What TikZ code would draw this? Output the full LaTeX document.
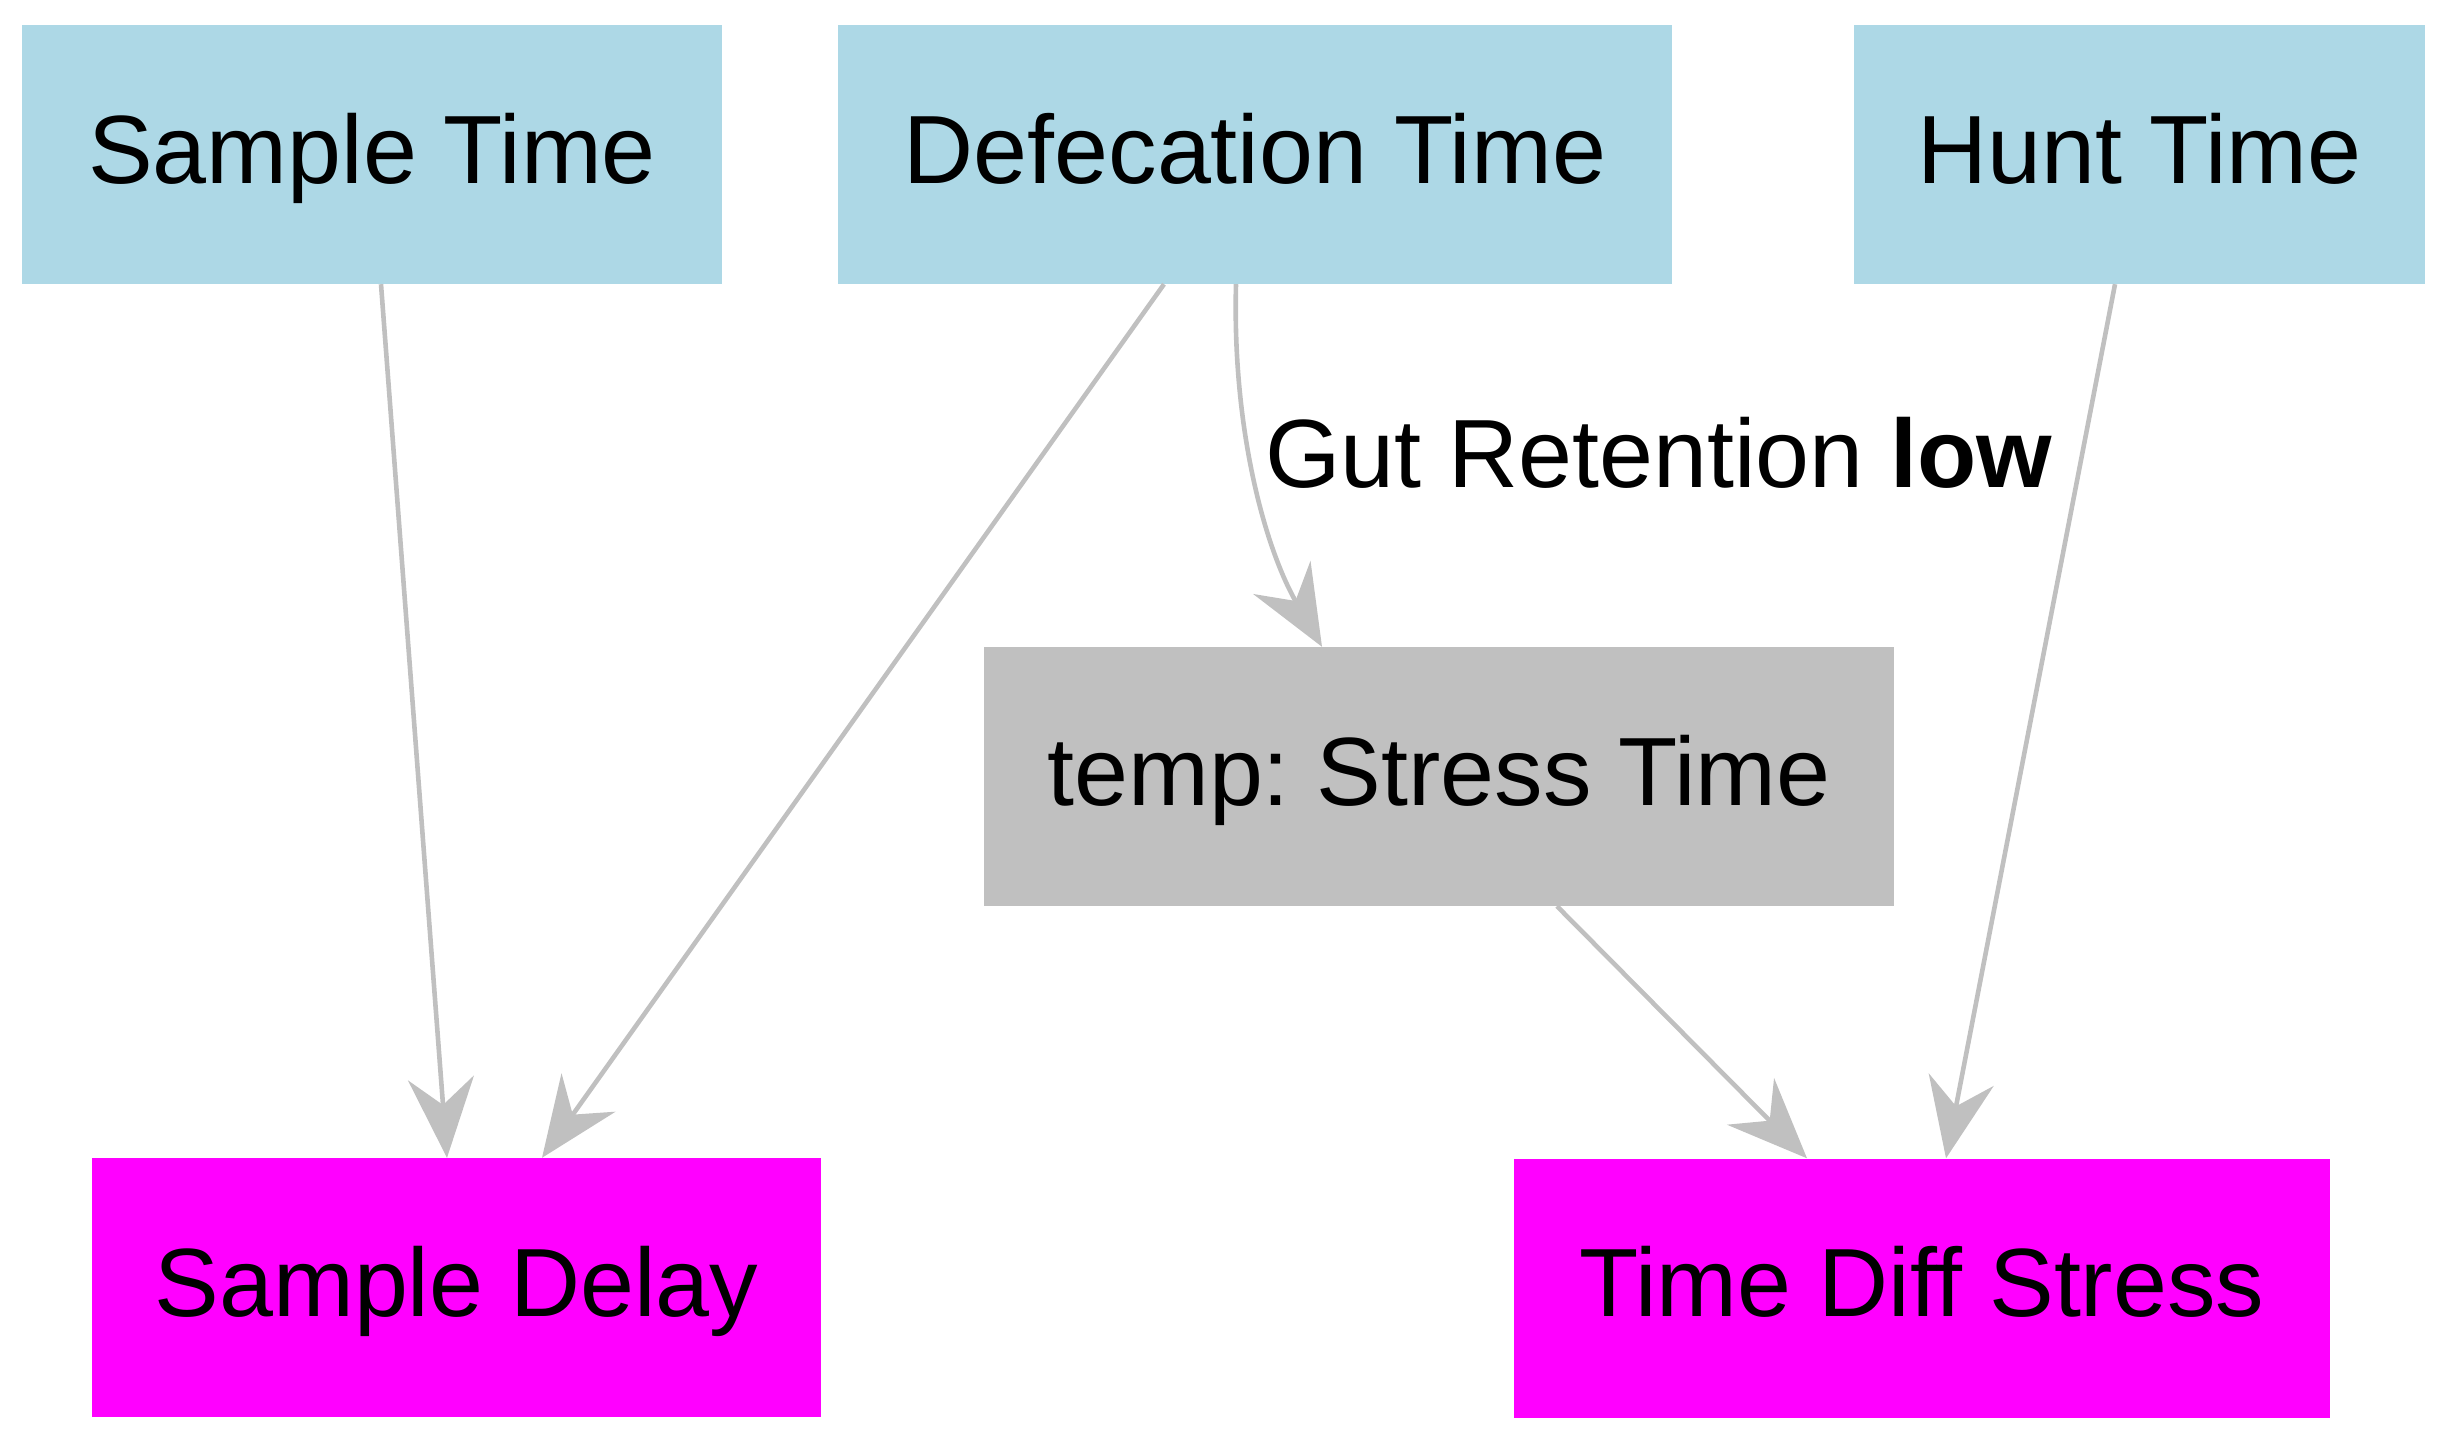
\documentclass[tikz,border=0pt]{standalone}
\usepackage{fontspec}
\setmainfont{Liberation Sans}
\usetikzlibrary{arrows.meta}
\definecolor{boxblue}{HTML}{ADD8E6}
\definecolor{boxmag}{HTML}{FF00FF}
\definecolor{boxgray}{HTML}{C0C0C0}
\definecolor{edgegray}{HTML}{C0C0C0}
\begin{document}
\frenchspacing
\begin{tikzpicture}[x=1pt,y=-1pt,
  box/.style={rectangle,inner sep=0pt,minimum height=259pt,text height=70pt,text depth=13pt,font=\fontsize{97pt}{110pt}\selectfont,text=black},
  inbox/.style={box,fill=boxblue},
  outbox/.style={box,fill=boxmag},
  tmpbox/.style={box,fill=boxgray},
  conn/.style={draw=edgegray,line width=4.6pt,-{Stealth[length=80pt,width=66pt,inset=27pt,color=edgegray]}},
  elabel/.style={inner sep=0pt,anchor=base west,font=\fontsize{97pt}{110pt}\selectfont}]
\useasboundingbox (0,0) rectangle (2445,1440);
\node[inbox,minimum width=700pt] (st) at (372,154.5) {Sample Time};
\node[inbox,minimum width=834pt] (def) at (1255,154.5) {Defecation Time};
\node[inbox,minimum width=571pt] (hunt) at (2139.5,154.5) {Hunt Time};
\node[tmpbox,minimum width=910pt] (tmp) at (1439,776.5) {temp: Stress Time};
\node[outbox,minimum width=729pt] (sd) at (456.5,1287.5) {Sample Delay};
\node[outbox,minimum width=816pt] (tds) at (1922,1288) {Time Diff Stress};
\node[elabel] (lbl) at (1265,487) {Gut Retention \textbf{low}};
\draw[conn] ([xshift=9pt]st.south) -- ([xshift=-9.5pt]sd.north);
\draw[conn] ([xshift=-91pt]def.south) -- ([xshift=85.5pt]sd.north);
\draw[conn] ([xshift=-19pt]def.south) .. controls +(-4pt,-150pt) and +(-55pt,95pt) .. ([xshift=-117pt]tmp.north);
\draw[conn] ([xshift=118pt]tmp.south) -- ([xshift=-115pt]tds.north);
\draw[conn] ([xshift=-24.5pt]hunt.south) -- ([xshift=24pt]tds.north);
\end{tikzpicture}
\end{document}
